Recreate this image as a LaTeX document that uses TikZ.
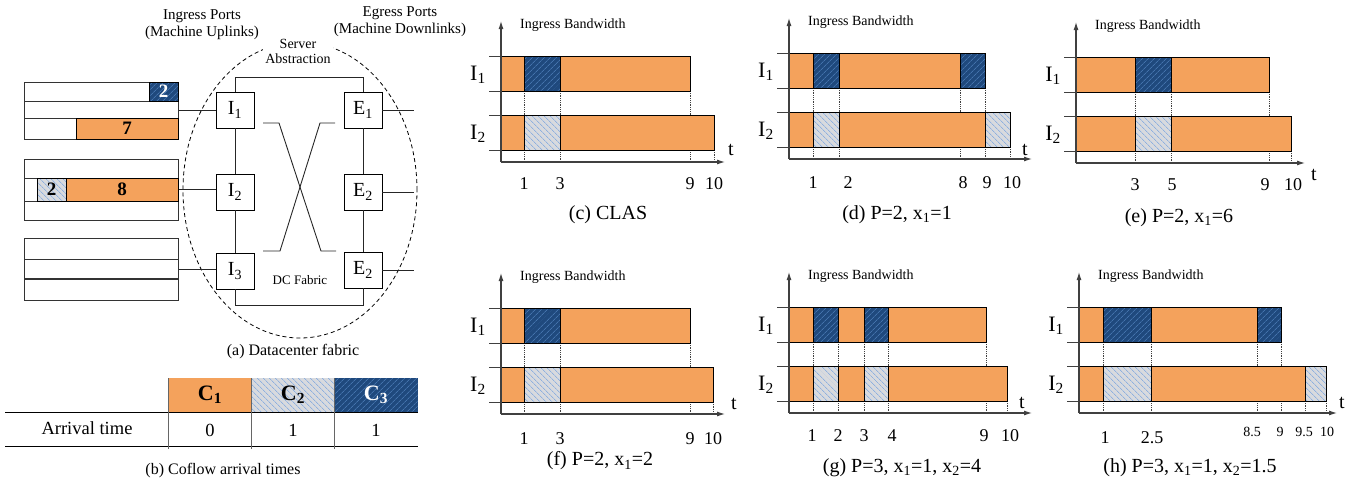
\documentclass[tikz,border=0pt]{standalone}
\usepackage{fontspec}
\setmainfont{Liberation Serif}
\usetikzlibrary{arrows.meta,patterns.meta}
\definecolor{coflowone}{RGB}{244,162,92}
\definecolor{coflowtwo}{RGB}{216,218,222}
\definecolor{coflowthree}{RGB}{31,73,125}
\definecolor{hatchblue}{RGB}{105,155,222}
\definecolor{hatchnavy}{RGB}{88,138,198}
\tikzset{
  c1bar/.style={draw=black, line width=1pt, fill=coflowone},
  c2bar/.style={draw=black, line width=1pt, preaction={fill=coflowtwo},
                pattern={Lines[angle=-45,distance=4pt,line width=0.6pt]}, pattern color=hatchblue},
  c3bar/.style={draw=black, line width=1pt, preaction={fill=coflowthree},
                pattern={Lines[angle=45,distance=4pt,line width=0.6pt]}, pattern color=hatchnavy},
  axisline/.style={-{Latex[length=8pt,width=5pt]}, line width=1.1pt, black!75},
  rowline/.style={line width=1pt, black!75},
  guide/.style={densely dotted, line width=0.8pt, black!75},
  fabric/.style={line width=0.9pt, black!85},
  portbox/.style={draw, fill=white, line width=0.9pt, minimum width=38pt, minimum height=36pt,
                  inner sep=0pt, font=\fontsize{20}{22}\selectfont},
  queue/.style={draw=black!80, line width=1pt, minimum width=154pt, inner sep=0pt},
  qline/.style={line width=1pt, black!80},
  qnum/.style={font=\bfseries\fontsize{19}{21}\selectfont},
  hdr/.style={minimum width=83pt, minimum height=34pt, inner sep=0pt, font=\bfseries\fontsize{22}{24}\selectfont},
  tblline/.style={line width=1pt, black},
  cell/.style={font=\fontsize{18.5}{20}\selectfont},
  bwtitle/.style={font=\fontsize{14}{16}\selectfont, inner sep=0pt},
  portname/.style={font=\fontsize{22}{24}\selectfont},
  ticklabel/.style={font=\fontsize{18}{20}\selectfont},
  ticksmall/.style={font=\fontsize{14}{16}\selectfont},
  tlabel/.style={font=\fontsize{20}{22}\selectfont},
  subcap/.style={font=\fontsize{20}{22}\selectfont},
  smallcap/.style={font=\fontsize{16}{18}\selectfont},
  heading/.style={font=\fontsize{15}{17}\selectfont, align=center, inner sep=0pt},
}
% axes, row ticks and labels of one bandwidth chart: #1 name, #2 axis length
\newcommand{\bwframe}[2]{%
  \draw[axisline] (0,0) -- (0,-141);
  \draw[axisline] (0,0) -- (#2,0);
  \foreach \y in {-106,-71,-47,-12} \draw[rowline] (-12,\y) -- (0,\y);
  \node[bwtitle, anchor=west] (#1-title) at (19,-137) {Ingress Bandwidth};
  \node[portname] (#1-i1) at (-23,-87) {I\textsubscript{1}};
  \node[portname] (#1-i2) at (-23,-28) {I\textsubscript{2}};
}

\begin{document}
\begin{tikzpicture}[x=1pt, y=-1pt]
\useasboundingbox (0,0) rectangle (1367,485);

% (a) datacenter fabric
\node[heading] (ingress) at (202,25) {Ingress Ports\\(Machine Uplinks)};
\node[heading] (egress) at (400,22) {Egress Ports\\(Machine Downlinks)};
\draw[dash pattern=on 4pt off 3pt, line width=0.8pt] (300,190) ellipse [x radius=117pt, y radius=148pt];
\node[heading, font=\fontsize{14}{15}\selectfont, fill=white, inner sep=2pt] (server) at (298,51) {Server\\Abstraction};
\coordinate (ftop) at (0,77);
\coordinate (fbot) at (0,305);
\coordinate (eout) at (414,0);
\node[portbox] (I1) at (235,110) {I\textsubscript{1}};
\node[portbox] (I2) at (235,192) {I\textsubscript{2}};
\node[portbox] (I3) at (235,271) {I\textsubscript{3}};
\node[portbox] (E1) at (363,110) {E\textsubscript{1}};
\node[portbox] (E2) at (363,192) {E\textsubscript{2}};
\node[portbox] (E3) at (363,270) {E\textsubscript{2}};
\draw[fabric] (I1.north) -- (I1.north |- ftop) -- (E1.north |- ftop) -- (E1.north);
\draw[fabric] (I3.south) -- (I3.south |- fbot) -- (E3.south |- fbot) -- (E3.south);
\draw[fabric] (I1) -- (I2);
\draw[fabric] (I2) -- (I3);
\draw[fabric] (E1) -- (E2);
\draw[fabric] (E2) -- (E3);
\draw[fabric] (263,123) -- (279,123) -- (321,251) -- (336,251);
\draw[fabric] (335,123) -- (320,123) -- (280,251) -- (263,251);
\node[font=\fontsize{13}{15}\selectfont] (dcfabric) at (300,280) {DC Fabric};
\foreach \e in {E1,E2,E3} \draw[fabric] (\e.east) -- (\e.east -| eout);

% queues
\node[queue, minimum height=57pt] (q1) at (101,110.5) {};
\node[queue, minimum height=61pt] (q2) at (101,189.5) {};
\node[queue, minimum height=62pt] (q3) at (101,269) {};
\draw[qline] (24,101) -- (178,101);
\draw[qline] (24,118) -- (178,118);
\draw[c3bar] (149,82) rectangle (178,101);
\node[qnum, text=white] (q1-a) at (163.5,91.5) {2};
\draw[c1bar] (76,118) rectangle (178,139);
\node[qnum] (q1-b) at (127,128.5) {7};
\draw[qline] (24,178) -- (178,178);
\draw[qline] (24,201) -- (178,201);
\draw[c2bar] (37,178) rectangle (66,201);
\node[qnum] (q2-a) at (51.5,189.5) {2};
\draw[c1bar] (66,178) rectangle (178,201);
\node[qnum] (q2-b) at (122,189.5) {8};
\draw[qline] (24,259) -- (178,259);
\draw[qline, line width=1.6pt] (24,279) -- (178,279);
\draw[fabric] (q1.east) -- (q1.east -| I1.west);
\draw[fabric] (q2.east) -- (q2.east -| I2.west);
\draw[fabric] (q3.east) -- (q3.east -| I3.west);
\node[smallcap] (cap-a) at (293,352) {(a) Datacenter fabric};

% (b) coflow arrival times
\node[hdr, fill=coflowone] (h1) at (210,395) {C\textsubscript{1}};
\node[hdr, preaction={fill=coflowtwo}, pattern={Lines[angle=-45,distance=4pt,line width=0.6pt]}, pattern color=hatchblue] (h2) at (293,395) {C\textsubscript{2}};
\node[hdr, preaction={fill=coflowthree}, pattern={Lines[angle=45,distance=4pt,line width=0.6pt]}, pattern color=hatchnavy, text=white] (h3) at (376,395) {C\textsubscript{3}};
\draw[tblline] (5,412) -- (418,412);
\draw[tblline] (5,446) -- (418,446);
\foreach \x in {168.5,251.5,334.5} \draw[black!60, line width=0.8pt] (\x,378) -- (\x,449);
\node[cell] (arrival) at (87,428) {Arrival time};
\node[cell] (a1) at (210,430) {0};
\node[cell] (a2) at (293,430) {1};
\node[cell] (a3) at (376,430) {1};
\node[smallcap] (cap-b) at (223,471) {(b) Coflow arrival times};

% (c) CLAS
\begin{scope}[shift={(501,162)}]
  \foreach \x/\y in {23/-71,59/-71,189/-71,213/-12} \draw[guide] (\x,\y) -- (\x,0);
  \foreach \a/\b/\s in {0/23/c1bar,23/59/c3bar,59/189/c1bar} \draw[\s] (\a,-106) rectangle (\b,-71);
  \foreach \a/\b/\s in {0/23/c1bar,23/59/c2bar,59/213/c1bar} \draw[\s] (\a,-47) rectangle (\b,-12);
  \bwframe{c}{224}
  \foreach \x/\lab [count=\k] in {23/1,59/3,189/9,213/10} \node[ticklabel] (c-t\k) at (\x,22) {\lab};
  \node[tlabel] (c-t) at (230,-12) {t};
  \node[subcap] (c-cap) at (107,53) {(c) CLAS};
\end{scope}

% (d)
\begin{scope}[shift={(789,159)}]
  \foreach \x/\y in {24/-71,50/-71,171/-71,196/-71,221/-12} \draw[guide] (\x,\y) -- (\x,0);
  \foreach \a/\b/\s in {0/24/c1bar,24/50/c3bar,50/171/c1bar,171/196/c3bar} \draw[\s] (\a,-106) rectangle (\b,-71);
  \foreach \a/\b/\s in {0/24/c1bar,24/50/c2bar,50/196/c1bar,196/221/c2bar} \draw[\s] (\a,-47) rectangle (\b,-12);
  \bwframe{d}{243}
  \foreach \x/\lab [count=\k] in {24/1,59/2,174/8,198/9,223/10} \node[ticklabel] (d-t\k) at (\x,24) {\lab};
  \node[tlabel] (d-t) at (236,-9) {t};
  \node[subcap] (d-cap) at (108,56) {(d) P=2, x\textsubscript{1}=1};
\end{scope}

% (e)
\begin{scope}[shift={(1076,163)}]
  \foreach \x/\y in {59/-71,95/-71,193/-71,215/-12} \draw[guide] (\x,\y) -- (\x,0);
  \foreach \a/\b/\s in {0/59/c1bar,59/95/c3bar,95/193/c1bar} \draw[\s] (\a,-106) rectangle (\b,-71);
  \foreach \a/\b/\s in {0/59/c1bar,59/95/c2bar,95/215/c1bar} \draw[\s] (\a,-47) rectangle (\b,-12);
  \bwframe{e}{229}
  \foreach \x/\lab [count=\k] in {59/3,96/5,189/9,217/10} \node[ticklabel] (e-t\k) at (\x,22) {\lab};
  \node[tlabel] (e-t) at (238,12) {t};
  \node[subcap] (e-cap) at (103,55) {(e) P=2, x\textsubscript{1}=6};
\end{scope}

% (f)
\begin{scope}[shift={(501,414)}]
  \foreach \x/\y in {23/-71,59/-71,189/-71,212/-12} \draw[guide] (\x,\y) -- (\x,0);
  \foreach \a/\b/\s in {0/23/c1bar,23/59/c3bar,59/189/c1bar} \draw[\s] (\a,-106) rectangle (\b,-71);
  \foreach \a/\b/\s in {0/23/c1bar,23/59/c2bar,59/212/c1bar} \draw[\s] (\a,-47) rectangle (\b,-12);
  \bwframe{f}{224}
  \foreach \x/\lab [count=\k] in {23/1,59/3,189/9,212/10} \node[ticklabel] (f-t\k) at (\x,25) {\lab};
  \node[tlabel] (f-t) at (233,-10) {t};
  \node[subcap] (f-cap) at (99,47) {(f) P=2, x\textsubscript{1}=2};
\end{scope}

% (g)
\begin{scope}[shift={(789,413)}]
  \foreach \x/\y in {24/-71,49/-71,75/-71,99/-71,197/-71,218/-12} \draw[guide] (\x,\y) -- (\x,0);
  \foreach \a/\b/\s in {0/24/c1bar,24/49/c3bar,49/75/c1bar,75/99/c3bar,99/197/c1bar} \draw[\s] (\a,-106) rectangle (\b,-71);
  \foreach \a/\b/\s in {0/24/c1bar,24/49/c2bar,49/75/c1bar,75/99/c2bar,99/218/c1bar} \draw[\s] (\a,-47) rectangle (\b,-12);
  \bwframe{g}{243}
  \foreach \x/\lab [count=\k] in {23/1,49/2,75/3,103/4,195/9,221/10} \node[ticklabel] (g-t\k) at (\x,23) {\lab};
  \node[tlabel] (g-t) at (233,-10) {t};
  \node[subcap] (g-cap) at (113,55) {(g) P=3, x\textsubscript{1}=1, x\textsubscript{2}=4};
\end{scope}

% (h)
\begin{scope}[shift={(1079,413)}]
  \foreach \x/\y in {24/-71,72/-71,178/-71,202/-71,226/-12,247/-12} \draw[guide] (\x,\y) -- (\x,0);
  \foreach \a/\b/\s in {0/24/c1bar,24/72/c3bar,72/178/c1bar,178/202/c3bar} \draw[\s] (\a,-106) rectangle (\b,-71);
  \foreach \a/\b/\s in {0/24/c1bar,24/72/c2bar,72/226/c1bar,226/247/c2bar} \draw[\s] (\a,-47) rectangle (\b,-12);
  \bwframe{h}{258}
  \foreach \x/\lab [count=\k] in {26/1,73/2.5} \node[ticklabel] (h-t\k) at (\x,25) {\lab};
  \foreach \x/\lab [count=\k] in {173/8.5,201/9,225/9.5,248/10} \node[ticksmall] (h-s\k) at (\x,19) {\lab};
  \node[tlabel] (h-t) at (263,-10) {t};
  \node[subcap] (h-cap) at (111,55) {(h) P=3, x\textsubscript{1}=1, x\textsubscript{2}=1.5};
\end{scope}
\end{tikzpicture}
\end{document}
